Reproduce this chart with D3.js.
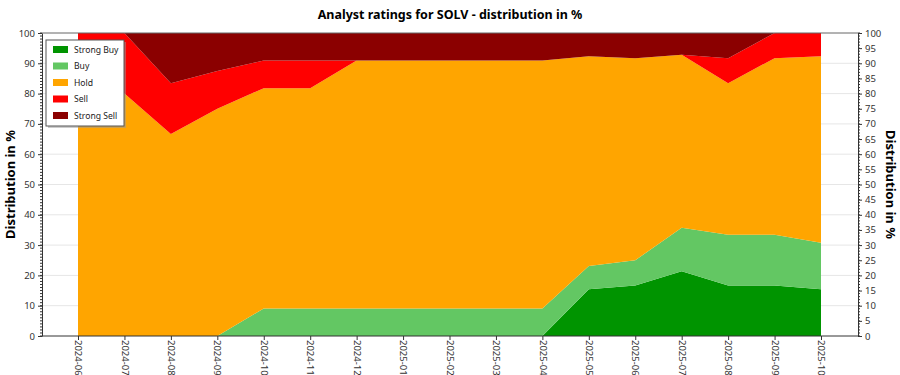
<!DOCTYPE html>
<html>
<head>
    <title>SOLV analyst ratings</title>
    <script src="https://d3js.org/d3.v7.min.js"></script>
    <style>
        body { margin: 0; background: #fff; }
        text { font-family: 'Noto Sans', 'Open Sans', sans-serif; }
        .title { font-size: 12.5px; font-weight: bold; }
        .ytitle { font-size: 13px; font-weight: bold; }
        .tick text { font-size: 9.5px; fill: #333; }
    </style>
</head>
<body>
    <svg id="chart" width="900" height="375"></svg>

    <script>
        var months = ["2024-06","2024-07","2024-08","2024-09","2024-10","2024-11","2024-12",
                      "2025-01","2025-02","2025-03","2025-04","2025-05","2025-06","2025-07",
                      "2025-08","2025-09","2025-10"];

        // percentages per month
        var strongBuy  = [0, 0, 0, 0, 0, 0, 0, 0, 0, 0, 0, 15.4, 16.7, 21.4, 16.7, 16.7, 15.4];
        var buy        = [0, 0, 0, 0, 9.1, 9.1, 9.1, 9.1, 9.1, 9.1, 9.1, 7.7, 8.3, 14.3, 16.7, 16.7, 15.4];
        var hold       = [80, 80, 66.7, 75, 72.7, 72.7, 81.8, 81.8, 81.8, 81.8, 81.8, 69.2, 66.7, 57.1, 50, 58.3, 61.5];
        var sell       = [20, 20, 16.7, 12.5, 9.1, 9.1, 0, 0, 0, 0, 0, 0, 0, 0, 8.3, 8.3, 7.7];
        var strongSell = [0, 0, 16.6, 12.5, 9.1, 9.1, 9.1, 9.1, 9.1, 9.1, 9.1, 7.7, 8.3, 7.2, 8.3, 0, 0];

        var seriesNames = ["Strong Buy", "Buy", "Hold", "Sell", "Strong Sell"];
        var seriesColors = ["#009400", "#63c763", "#ffa500", "#ff0000", "#8b0000"];
        var seriesValues = [strongBuy, buy, hold, sell, strongSell];

        var rows = months.map(function(m, i) {
            var r = { month: m };
            seriesNames.forEach(function(s, j) { r[s] = seriesValues[j][i]; });
            return r;
        });

        var svg = d3.select("#chart");
        var pLeft = 42, pRight = 858, pTop = 33, pBottom = 336;

        var x = d3.scalePoint().domain(months).range([78, 821]);
        var y = d3.scaleLinear().domain([0, 100]).range([pBottom, pTop]);

        // grid
        svg.append("g").selectAll("line")
            .data(d3.range(10, 100, 10))
            .enter().append("line")
            .attr("x1", pLeft).attr("x2", pRight)
            .attr("y1", function(d) { return y(d); })
            .attr("y2", function(d) { return y(d); })
            .attr("stroke", "#e6e6e6");

        var stack = d3.stack().keys(seriesNames);
        var layers = stack(rows);

        var area = d3.area()
            .x(function(d) { return x(d.data.month); })
            .y0(function(d) { return y(d[0]); })
            .y1(function(d) { return y(d[1]); });

        svg.append("g").selectAll("path")
            .data(layers)
            .enter().append("path")
            .attr("fill", function(d, i) { return seriesColors[i]; })
            .attr("d", area);

        // top frame
        svg.append("line")
            .attr("x1", pLeft).attr("x2", pRight)
            .attr("y1", pTop).attr("y2", pTop)
            .attr("stroke", "#666");

        // left axis
        var yl = svg.append("g").attr("transform", "translate(" + pLeft + ",0)")
            .call(d3.axisLeft(y).tickValues(d3.range(0, 101, 10)).tickSize(4).tickPadding(3).tickSizeOuter(0));
        yl.append("g").selectAll("line")
            .data(d3.range(0, 101, 1))
            .enter().append("line")
            .attr("x1", -2).attr("x2", 0)
            .attr("y1", function(d) { return y(d); })
            .attr("y2", function(d) { return y(d); })
            .attr("stroke", "#333");

        // right axis
        var yr = svg.append("g").attr("transform", "translate(" + pRight + ",0)")
            .call(d3.axisRight(y).tickValues(d3.range(0, 101, 5)).tickSize(4).tickPadding(3).tickSizeOuter(0));
        yr.append("g").selectAll("line")
            .data(d3.range(0, 101, 1))
            .enter().append("line")
            .attr("x1", 0).attr("x2", 2)
            .attr("y1", function(d) { return y(d); })
            .attr("y2", function(d) { return y(d); })
            .attr("stroke", "#333");

        // bottom axis
        var xa = svg.append("g").attr("transform", "translate(0," + pBottom + ")")
            .call(d3.axisBottom(x).tickSize(4).tickSizeOuter(0));
        xa.select(".domain").attr("d", "M" + pLeft + ",0H" + pRight);
        xa.selectAll(".tick text")
            .attr("transform", "rotate(90)")
            .attr("text-anchor", "start")
            .attr("x", 4)
            .attr("y", 0)
            .attr("dy", "0.35em");

        svg.selectAll(".domain").attr("stroke", "#333");
        svg.selectAll(".tick line").attr("stroke", "#333");

        // titles
        svg.append("text").attr("class", "title")
            .attr("x", 450).attr("y", 19).attr("text-anchor", "middle")
            .text("Analyst ratings for SOLV - distribution in %");

        svg.append("text").attr("class", "ytitle")
            .attr("transform", "translate(15," + ((pTop + pBottom) / 2) + ") rotate(-90)")
            .attr("text-anchor", "middle")
            .text("Distribution in %");

        svg.append("text").attr("class", "ytitle")
            .attr("transform", "translate(886," + ((pTop + pBottom) / 2) + ") rotate(90)")
            .attr("text-anchor", "middle")
            .text("Distribution in %");

        // legend
        var lg = svg.append("g").attr("transform", "translate(46,40)");
        lg.append("rect").attr("x", 2).attr("y", 2).attr("width", 78).attr("height", 86)
            .attr("fill", "#999").attr("opacity", 0.5);
        lg.append("rect").attr("width", 78).attr("height", 86)
            .attr("fill", "#fff").attr("stroke", "#555");
        var items = lg.selectAll(".item")
            .data(seriesNames)
            .enter().append("g")
            .attr("transform", function(d, i) { return "translate(7," + (6 + i * 16.5) + ")"; });
        items.append("rect")
            .attr("width", 15).attr("height", 7)
            .attr("fill", function(d, i) { return seriesColors[i]; });
        items.append("text")
            .attr("x", 21).attr("y", 3.5).attr("dy", "0.35em")
            .style("font-size", "8.6px").attr("fill", "#222")
            .text(function(d) { return d; });
    </script>
</body>
</html>
